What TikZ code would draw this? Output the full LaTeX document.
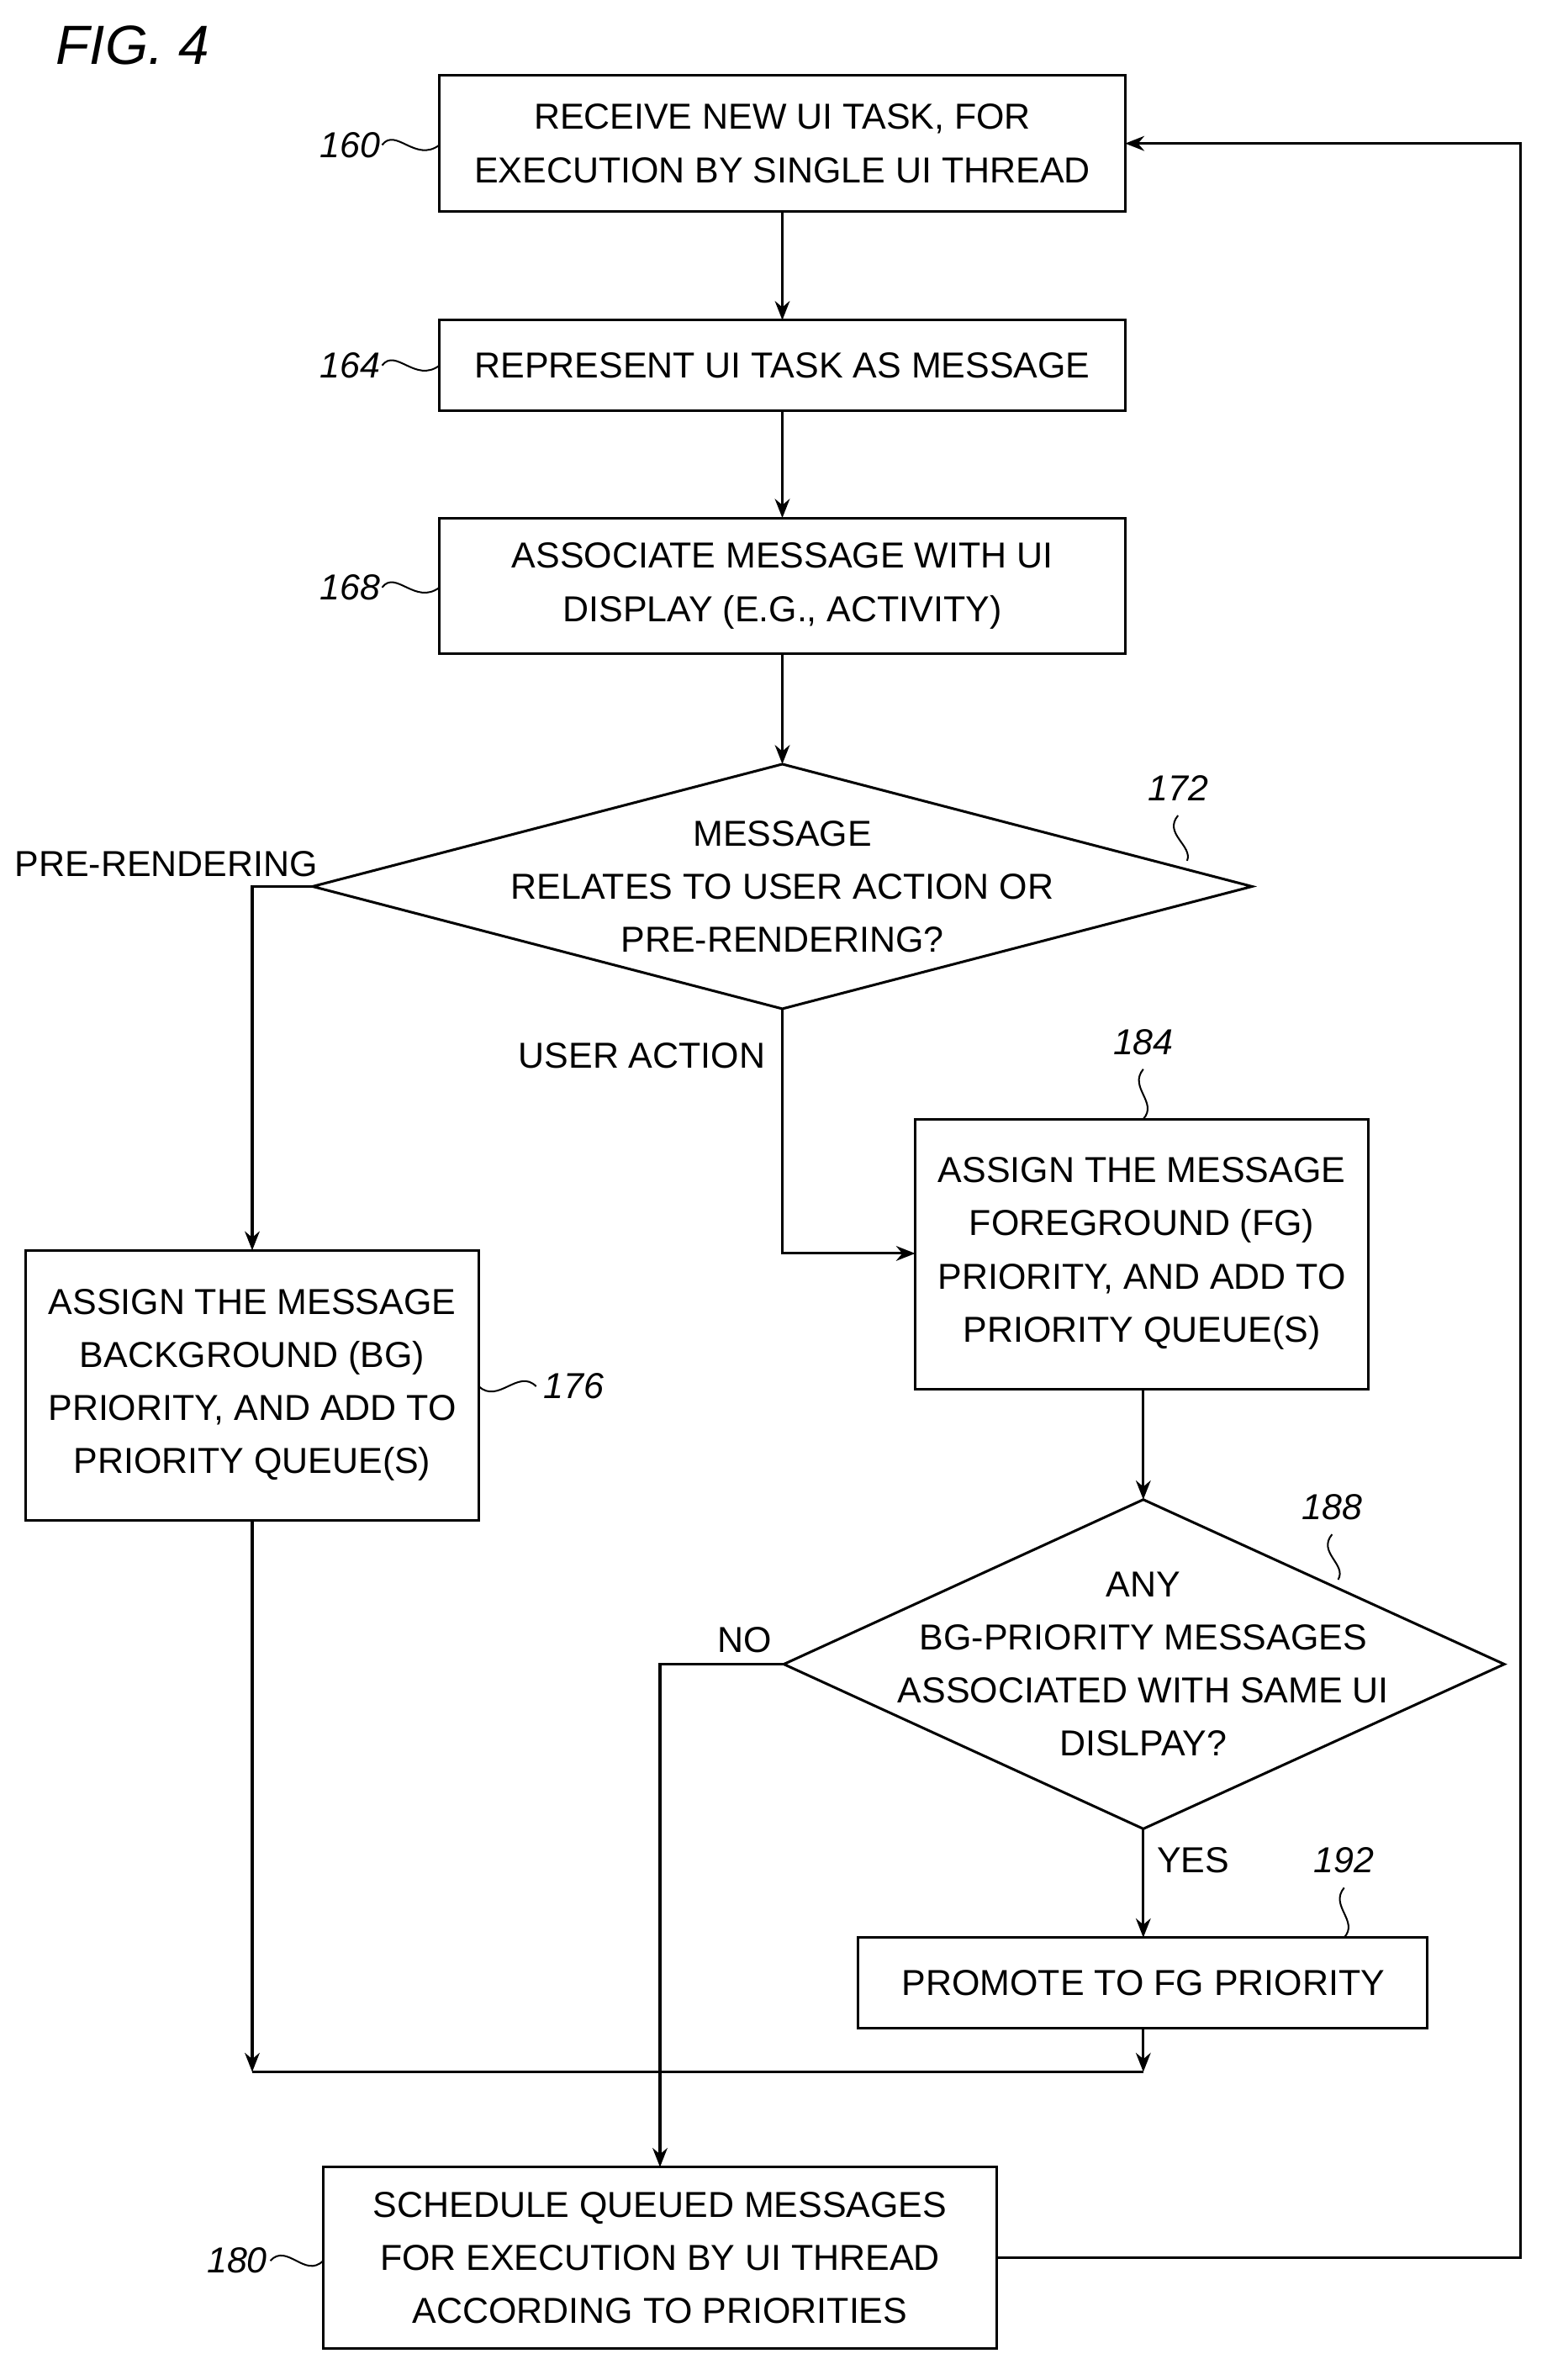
\documentclass[tikz,border=0pt]{standalone}
\usepackage{fontspec}
\setmainfont{Liberation Sans}
\usetikzlibrary{arrows.meta}
\begin{document}
\begin{tikzpicture}[x=0.025cm,y=-0.025cm,
 box/.style={draw,line width=1.2pt,inner sep=0pt},
 txt/.style={align=center,font=\fontsize{17}{25}\selectfont},
 lbl/.style={font=\fontsize{17}{20}\selectfont\itshape},
 arr/.style={line width=1.2pt,-{Stealth[length=9pt,width=7pt]}},
 ln/.style={line width=1.2pt},
 sq/.style={line width=0.8pt}]
\useasboundingbox (0,0) rectangle (1024,1576);
\fill[white] (0,0) rectangle (1024,1576);
\node[font=\fontsize{26}{30}\selectfont\itshape] (fig) at (88,30) {FIG. 4};
% boxes
\draw[box] (291,50) rectangle (745,140); \node[txt] (b160) at (518,95) {RECEIVE NEW UI TASK, FOR\\EXECUTION BY SINGLE UI THREAD};
\draw[box] (291,212) rectangle (745,272); \node[txt] (b164) at (518,242) {REPRESENT UI TASK AS MESSAGE};
\draw[box] (291,343) rectangle (745,433); \node[txt] (b168) at (518,388) {ASSOCIATE MESSAGE WITH UI\\DISPLAY (E.G., ACTIVITY)};
\draw[box] (207,587) -- (518,506) -- (829,587) -- (518,668) -- cycle;
\node[txt] (d172) at (518,587) {MESSAGE\\RELATES TO USER ACTION OR\\PRE-RENDERING?};
\draw[box] (17,828) rectangle (317,1007); \node[txt] (b176) at (167,917) {ASSIGN THE MESSAGE\\BACKGROUND (BG)\\PRIORITY, AND ADD TO\\PRIORITY QUEUE(S)};
\draw[box] (606,741) rectangle (906,920); \node[txt] (b184) at (756,830) {ASSIGN THE MESSAGE\\FOREGROUND (FG)\\PRIORITY, AND ADD TO\\PRIORITY QUEUE(S)};
\draw[box] (519,1102) -- (757,993) -- (996,1102) -- (757,1211) -- cycle;
\node[txt] (d188) at (757,1102) {ANY\\BG-PRIORITY MESSAGES\\ASSOCIATED WITH SAME UI\\DISLPAY?};
\draw[box] (568,1283) rectangle (945,1343); \node[txt] (b192) at (757,1313) {PROMOTE TO FG PRIORITY};
\draw[box] (214,1435) rectangle (660,1555); \node[txt] (b180) at (437,1495) {SCHEDULE QUEUED MESSAGES\\FOR EXECUTION BY UI THREAD\\ACCORDING TO PRIORITIES};
% connectors
\draw[arr] (518,140) -- (518,212);
\draw[arr] (518,272) -- (518,343);
\draw[arr] (518,433) -- (518,506);
\draw[arr] (207,587) -- (167,587) -- (167,828);
\draw[arr] (518,668) -- (518,830) -- (606,830);
\draw[arr] (757,920) -- (757,993);
\draw[arr] (757,1211) -- (757,1283);
\draw[arr] (519,1102) -- (437,1102) -- (437,1435);
\draw[arr] (167,1007) -- (167,1372);
\draw[arr] (757,1343) -- (757,1372);
\draw[ln] (167,1372) -- (757,1372);
\draw[arr] (660,1495) -- (1007,1495) -- (1007,95) -- (745,95);
% labels
\node[txt] (lpre) at (110,572) {PRE-RENDERING};
\node[txt] (lua) at (425,699) {USER ACTION};
\node[txt] (lno) at (493,1086) {NO};
\node[txt] (lyes) at (790,1232) {YES};
\node[lbl] (n160) at (232,96) {160};
\node[lbl] (n164) at (232,242) {164};
\node[lbl] (n168) at (232,389) {168};
\node[lbl] (n172) at (780,522) {172};
\node[lbl] (n176) at (380,918) {176};
\node[lbl] (n184) at (757,690) {184};
\node[lbl] (n188) at (882,998) {188};
\node[lbl] (n192) at (890,1232) {192};
\node[lbl] (n180) at (157,1497) {180};
% squiggles
\foreach \y in {96,242,389} \draw[sq] (253,\y) .. controls (262,\y-12) and (275,\y+12) .. (291,\y);
\draw[sq] (317,918) .. controls (330,930) and (343,906) .. (355,918);
\draw[sq] (179,1497) .. controls (190,1485) and (202,1509) .. (214,1497);
\draw[sq] (780,540) .. controls (770,552) and (790,560) .. (786,570);
\draw[sq] (757,708) .. controls (747,720) and (767,730) .. (757,741);
\draw[sq] (882,1016) .. controls (872,1028) and (892,1036) .. (886,1046);
\draw[sq] (890,1250) .. controls (880,1262) and (900,1272) .. (890,1283);
\end{tikzpicture}
\end{document}
